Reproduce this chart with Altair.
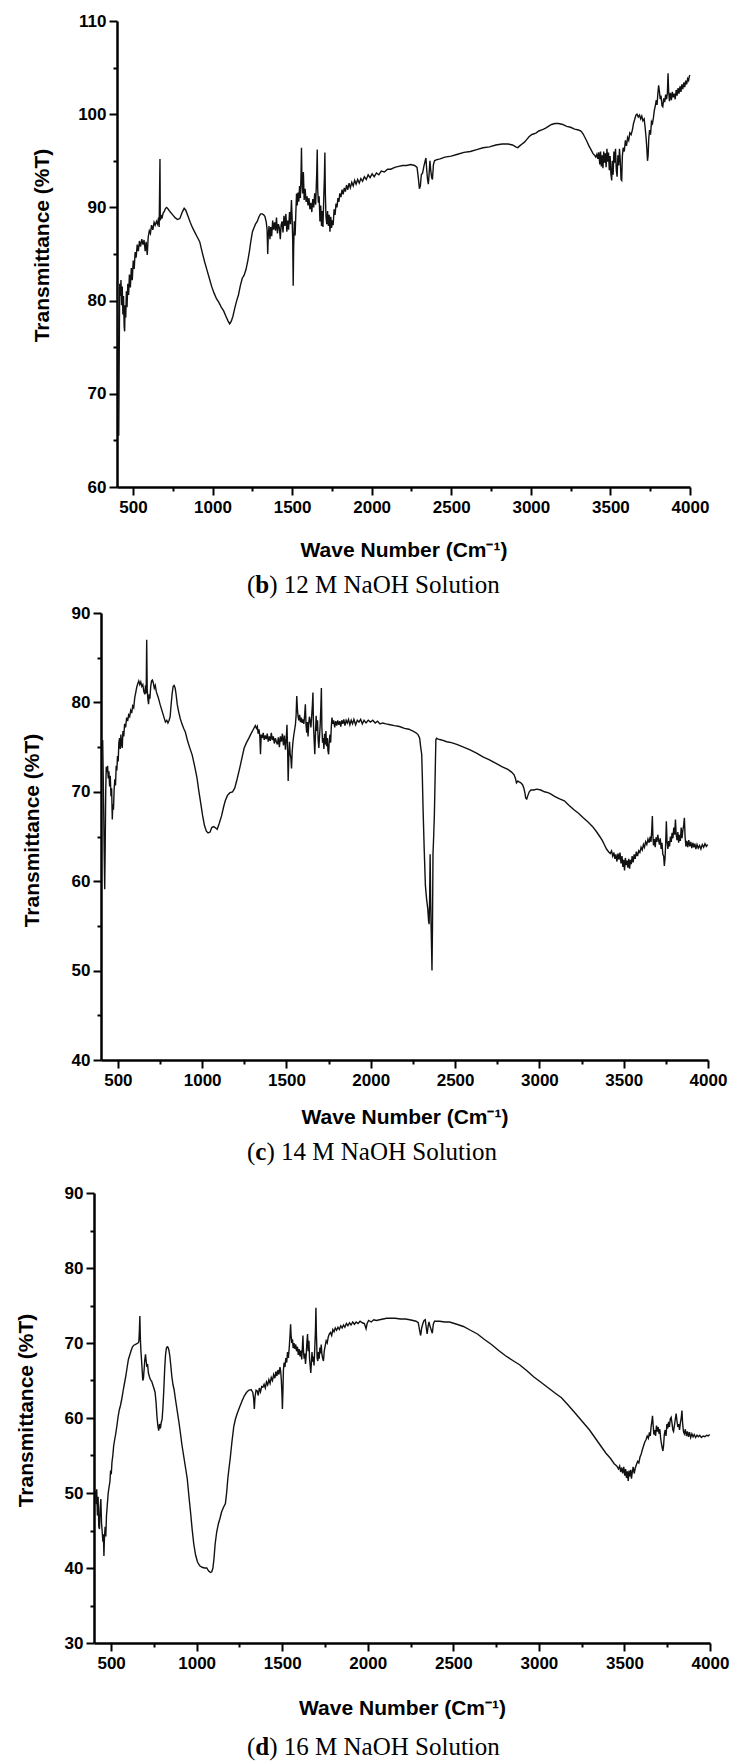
import altair as alt
import pandas as pd

# ---------------- data ----------------
X_TICKS = [500, 750, 1000, 1250, 1500, 1750, 2000, 2250, 2500, 2750, 3000, 3250, 3500, 3750, 4000]
Y_TICKS_B = [60, 65, 70, 75, 80, 85, 90, 95, 100, 105, 110]
Y_TICKS_C = [40, 45, 50, 55, 60, 65, 70, 75, 80, 85, 90]
Y_TICKS_D = [30, 35, 40, 45, 50, 55, 60, 65, 70, 75, 80, 85, 90]

CAPTIONS = [("b", ") 12 M NaOH Solution"), ("c", ") 14 M NaOH Solution"), ("d", ") 16 M NaOH Solution")]
X_TITLE = "Wave Number (Cm\u207b\u00b9)"
Y_TITLE = "Transmittance (%T)"

SPEC_B = [
    (402, 82.0), (405, 78), (408, 72), (411, 65.5), (414, 74), (417, 81.8), (421, 80.5), (425, 82.2), (429, 79.5),
    (433, 81.5), (437, 78.5), (441, 80.5), (445, 77.2), (448, 76.7), (451, 79.5), (455, 78.2), (459, 81), (463, 79.3),
    (468, 81.8), (473, 80.6), (478, 82.8), (484, 81.4), (490, 83.5), (496, 82.2), (502, 84.3), (508, 83.4), (514, 85.2),
    (520, 84.6), (527, 86), (534, 85.3), (541, 86.4), (548, 85.8), (556, 86.6), (563, 86.0), (570, 86.5), (577, 85.3),
    (583, 86.3), (590, 84.9), (596, 86.8), (603, 87.5), (610, 87.2), (617, 88.1), (625, 87.6), (633, 88.4), (640, 88.1),
    (648, 88.5), (655, 88.2), (661, 88.9), (665, 87.9), (668, 92.3), (670, 95.2), (672, 88.6), (676, 89.2), (682, 88.8),
    (690, 89.4), (698, 89.6), (705, 89.9), (712, 90.0), (722, 89.8), (735, 89.5), (750, 89.2), (765, 88.9), (780, 88.7),
    (795, 88.8), (810, 89.5), (822, 89.9), (832, 89.7), (845, 89.1), (860, 88.4), (875, 87.8), (890, 87.3), (905, 86.8),
    (920, 86.3), (935, 85.2), (950, 84.2), (965, 83.3), (980, 82.4), (995, 81.5), (1010, 80.8), (1025, 80.2), (1040, 79.8),
    (1055, 79.3), (1070, 78.9), (1085, 78.3), (1098, 77.8), (1108, 77.5), (1118, 77.8), (1128, 78.3), (1140, 79.2),
    (1152, 80.0), (1163, 80.6), (1175, 81.6), (1187, 82.4), (1198, 82.7), (1210, 83.3), (1222, 84.3), (1232, 85.3),
    (1242, 86.5), (1251, 87.4), (1260, 87.8), (1270, 88.2), (1281, 88.5), (1292, 89.0), (1302, 89.3), (1312, 89.3),
    (1322, 89.2), (1330, 89.0), (1338, 88.4), (1343, 87.6), (1347, 85.0), (1350, 86.8), (1355, 88.0), (1361, 86.6),
    (1366, 87.9), (1372, 86.9), (1378, 88.6), (1384, 87.6), (1390, 88.4), (1396, 87.5), (1402, 88.9), (1408, 87.2),
    (1414, 88.2), (1420, 87.8), (1426, 86.6), (1431, 88.1), (1437, 88.5), (1443, 87.3), (1449, 89.1), (1455, 88.0),
    (1461, 89.3), (1467, 87.4), (1472, 88.6), (1478, 87.6), (1484, 89.5), (1490, 88.2), (1496, 90.8), (1500, 89.0),
    (1504, 86.5), (1507, 81.6), (1510, 85.8), (1514, 88.5), (1519, 87.0), (1524, 89.6), (1528, 91.5), (1532, 90.2),
    (1537, 91.6), (1542, 90.6), (1547, 92.3), (1552, 91.0), (1556, 93.4), (1559, 96.4), (1562, 93.0), (1566, 91.5),
    (1571, 93.8), (1576, 90.8), (1582, 92.0), (1588, 90.6), (1594, 91.2), (1600, 90.2), (1606, 91.0), (1612, 89.8),
    (1618, 90.5), (1624, 89.5), (1630, 90.9), (1636, 90.0), (1642, 91.5), (1648, 90.3), (1652, 92.2), (1655, 93.8),
    (1658, 96.2), (1661, 92.0), (1665, 90.5), (1670, 91.2), (1675, 88.5), (1680, 90.2), (1685, 88.0), (1690, 89.6),
    (1694, 87.9), (1699, 91.0), (1703, 93.2), (1706, 95.9), (1709, 91.5), (1713, 89.0), (1718, 88.2), (1723, 89.6),
    (1728, 88.0), (1733, 89.2), (1738, 87.4), (1743, 89.0), (1748, 87.8), (1753, 88.6), (1758, 88.1), (1764, 89.8),
    (1770, 89.2), (1776, 90.4), (1782, 90.0), (1788, 91.0), (1794, 90.6), (1800, 91.5), (1807, 91.1), (1814, 91.9),
    (1821, 91.4), (1828, 92.1), (1835, 91.7), (1842, 92.4), (1850, 91.9), (1858, 92.6), (1866, 92.1), (1875, 92.7),
    (1884, 92.3), (1893, 92.9), (1902, 92.5), (1912, 93.0), (1922, 92.6), (1932, 93.1), (1943, 92.8), (1954, 93.3),
    (1966, 93.0), (1978, 93.5), (1990, 93.2), (2003, 93.6), (2016, 93.3), (2030, 93.7), (2045, 93.5), (2060, 93.9),
    (2080, 93.8), (2100, 94.1), (2120, 94.1), (2145, 94.3), (2170, 94.4), (2195, 94.5), (2220, 94.5), (2245, 94.6),
    (2270, 94.5), (2285, 94.3), (2293, 93.2), (2300, 92.0), (2306, 92.3), (2312, 93.5), (2320, 93.7), (2328, 94.4),
    (2336, 95.0), (2341, 95.3), (2346, 94.0), (2351, 93.0), (2356, 92.5), (2361, 93.6), (2366, 95.0), (2371, 94.0),
    (2377, 93.2), (2382, 93.0), (2388, 94.6), (2395, 95.0), (2405, 95.1), (2430, 95.2), (2460, 95.4), (2500, 95.5),
    (2540, 95.7), (2580, 95.9), (2620, 96.0), (2660, 96.2), (2700, 96.4), (2740, 96.5), (2780, 96.7), (2820, 96.8),
    (2857, 96.8), (2885, 96.7), (2905, 96.5), (2918, 96.4), (2930, 96.6), (2945, 96.8), (2960, 97.0), (2975, 97.3),
    (2990, 97.6), (3005, 97.8), (3020, 97.9), (3034, 98.0), (3050, 98.2), (3065, 98.3), (3080, 98.4), (3093, 98.5),
    (3110, 98.7), (3130, 98.9), (3152, 99.0), (3175, 99.0), (3200, 98.9), (3225, 98.7), (3250, 98.6), (3275, 98.4),
    (3300, 98.3), (3315, 98.2), (3328, 97.9), (3340, 97.5), (3352, 97.1), (3365, 96.6), (3378, 96.2), (3390, 95.8),
    (3400, 95.6), (3408, 95.4), (3415, 95.7), (3421, 95.2), (3427, 95.9), (3433, 94.6), (3438, 96.0), (3443, 94.4),
    (3448, 95.6), (3453, 94.2), (3458, 96.0), (3463, 94.8), (3468, 95.8), (3473, 94.3), (3478, 96.3), (3483, 94.9),
    (3488, 95.9), (3493, 94.0), (3498, 95.5), (3503, 93.6), (3508, 92.9), (3512, 95.0), (3517, 93.5), (3522, 96.0),
    (3527, 94.8), (3532, 96.3), (3537, 94.0), (3542, 93.3), (3547, 95.6), (3552, 94.5), (3557, 96.3), (3562, 95.0),
    (3567, 93.0), (3571, 92.9), (3575, 95.5), (3580, 96.4), (3587, 96.0), (3594, 97.2), (3601, 96.6), (3608, 97.5),
    (3615, 97.2), (3622, 98.0), (3630, 97.8), (3638, 98.3), (3645, 99.0), (3652, 99.4), (3660, 99.9), (3667, 100.0),
    (3675, 99.7), (3683, 99.9), (3690, 99.5), (3697, 99.8), (3704, 99.3), (3712, 99.5), (3718, 98.6), (3724, 97.5),
    (3729, 96.3), (3733, 95.0), (3737, 95.6), (3741, 97.4), (3746, 98.3), (3752, 97.8), (3758, 99.2), (3764, 99.0),
    (3770, 99.6), (3776, 100.4), (3782, 100.9), (3788, 101.5), (3793, 101.0), (3798, 102.2), (3803, 103.1), (3808, 102.4),
    (3813, 101.6), (3818, 102.0), (3824, 100.9), (3829, 100.8), (3835, 101.7), (3841, 101.3), (3847, 102.1), (3853, 101.6),
    (3858, 102.3), (3862, 104.4), (3866, 102.4), (3871, 101.4), (3877, 102.3), (3883, 101.5), (3889, 102.4), (3895, 101.8),
    (3901, 102.2), (3907, 101.6), (3913, 102.6), (3919, 102.0), (3925, 102.8), (3931, 102.2), (3937, 103.0), (3943, 102.4),
    (3949, 103.2), (3955, 102.7), (3961, 103.4), (3967, 102.9), (3973, 103.6), (3979, 103.2), (3985, 103.8), (3991, 103.6),
    (3996, 104.1), (4000, 104.2),
]

SPEC_C = [
    (402, 76.0), (406, 75.5), (410, 75.8), (413, 72.0), (416, 68.0), (419, 63.0), (422, 59.1), (425, 64.0), (428, 70.0),
    (431, 72.8), (435, 72.2), (439, 72.9), (443, 71.5), (447, 72.3), (451, 70.6), (455, 71.8), (459, 69.5), (463, 70.4),
    (467, 66.9), (470, 68.6), (474, 68.0), (478, 70.3), (482, 71.4), (486, 70.7), (490, 72.9), (494, 72.4), (498, 74.0),
    (502, 73.4), (506, 75.5), (510, 76.0), (514, 74.8), (518, 76.4), (522, 75.3), (526, 74.9), (530, 76.8), (535, 76.2),
    (540, 77.6), (546, 77.2), (552, 78.3), (558, 77.9), (564, 78.6), (570, 78.4), (576, 79.1), (582, 78.8), (588, 79.6),
    (594, 79.4), (600, 80.5), (606, 81.1), (612, 81.7), (618, 82.1), (624, 82.4), (630, 82.0), (636, 82.3), (642, 81.8),
    (648, 82.0), (654, 81.2), (660, 80.9), (664, 81.9), (668, 81.0), (671, 87.0), (674, 81.5), (678, 80.4), (682, 79.8),
    (686, 80.9), (690, 80.4), (695, 81.8), (700, 82.4), (705, 82.5), (710, 82.2), (716, 81.6), (722, 81.9), (728, 81.2),
    (735, 80.8), (742, 80.4), (750, 79.8), (758, 79.3), (766, 78.8), (774, 78.3), (782, 77.8), (790, 78.0), (797, 77.7),
    (804, 78.0), (810, 78.4), (816, 79.8), (822, 81.0), (828, 81.8), (834, 81.9), (840, 81.6), (846, 80.8), (852, 79.8),
    (860, 79.0), (870, 78.2), (880, 77.6), (890, 77.1), (900, 76.7), (912, 75.8), (925, 75.0), (941, 74.1), (955, 72.9),
    (969, 71.6), (980, 70.1), (990, 68.9), (1003, 67.3), (1014, 66.2), (1025, 65.6), (1035, 65.4), (1047, 65.5),
    (1057, 66.0), (1067, 66.1), (1077, 66.0), (1089, 65.8), (1100, 66.4), (1115, 67.3), (1127, 68.3), (1137, 69.0),
    (1150, 69.6), (1165, 69.9), (1180, 70.0), (1193, 70.4), (1207, 71.4), (1221, 72.5), (1235, 73.7), (1249, 74.9),
    (1263, 75.5), (1277, 76.0), (1290, 76.5), (1304, 77.0), (1315, 77.4), (1322, 77.1), (1327, 77.3), (1332, 76.5),
    (1337, 77.0), (1342, 76.2), (1346, 74.2), (1350, 76.4), (1356, 76.0), (1362, 76.6), (1368, 75.8), (1374, 76.3),
    (1380, 75.9), (1386, 76.5), (1392, 75.6), (1398, 76.2), (1404, 75.7), (1410, 76.6), (1416, 75.8), (1422, 76.2),
    (1428, 75.4), (1434, 76.0), (1440, 75.6), (1446, 75.3), (1452, 76.1), (1458, 75.0), (1464, 76.2), (1470, 75.6),
    (1476, 76.5), (1482, 75.2), (1488, 76.3), (1494, 74.7), (1499, 76.0), (1503, 77.5), (1507, 74.5), (1510, 71.2),
    (1514, 74.0), (1518, 75.6), (1522, 74.2), (1526, 73.8), (1530, 72.6), (1534, 74.5), (1538, 75.5), (1543, 76.3),
    (1548, 76.9), (1553, 77.5), (1557, 78.5), (1561, 80.7), (1565, 79.2), (1569, 78.4), (1573, 78.0), (1578, 78.6),
    (1583, 77.8), (1588, 78.3), (1593, 77.7), (1598, 78.1), (1603, 77.6), (1608, 78.6), (1612, 79.8), (1616, 77.5),
    (1620, 76.6), (1624, 77.8), (1628, 76.2), (1632, 77.6), (1636, 78.4), (1640, 78.0), (1645, 77.2), (1650, 78.6),
    (1654, 79.8), (1657, 81.1), (1660, 77.6), (1664, 75.8), (1668, 74.2), (1672, 76.5), (1676, 78.5), (1680, 76.8),
    (1684, 78.0), (1688, 75.8), (1692, 74.9), (1696, 76.2), (1700, 77.5), (1704, 79.5), (1707, 81.6), (1710, 77.2),
    (1714, 75.5), (1718, 76.0), (1722, 74.8), (1726, 76.5), (1730, 75.3), (1734, 76.8), (1738, 75.1), (1742, 76.0),
    (1746, 74.6), (1750, 74.2), (1754, 75.8), (1758, 76.4), (1762, 75.5), (1766, 77.3), (1770, 78.3), (1775, 77.6),
    (1780, 78.0), (1786, 77.2), (1792, 77.9), (1798, 77.4), (1804, 78.0), (1810, 77.5), (1816, 77.9), (1822, 77.3),
    (1828, 78.0), (1834, 77.6), (1840, 78.1), (1847, 77.4), (1854, 78.0), (1861, 77.7), (1868, 78.1), (1876, 77.5),
    (1884, 78.0), (1892, 77.6), (1900, 78.1), (1910, 77.5), (1920, 78.0), (1930, 77.8), (1940, 78.1), (1950, 77.6),
    (1960, 78.0), (1972, 77.7), (1985, 78.0), (1998, 77.8), (2012, 78.0), (2026, 77.7), (2040, 77.9), (2055, 77.6),
    (2070, 77.7), (2090, 77.6), (2115, 77.5), (2140, 77.4), (2170, 77.3), (2200, 77.1), (2226, 77.0), (2250, 76.8),
    (2268, 76.6), (2280, 76.4), (2290, 76.0), (2296, 75.0), (2302, 74.2), (2306, 71.5), (2310, 68.2), (2317, 63.5),
    (2324, 59.5), (2331, 58.0), (2338, 56.9), (2343, 55.5), (2346, 55.2), (2349, 58.0), (2352, 63.0), (2355, 58.0),
    (2358, 54.8), (2361, 52.0), (2363, 50.0), (2366, 55.0), (2369, 63.0), (2373, 65.0), (2377, 67.3), (2382, 72.0),
    (2386, 75.8), (2390, 76.0), (2399, 75.9), (2420, 75.8), (2450, 75.6), (2478, 75.5), (2510, 75.3), (2550, 75.0),
    (2589, 74.7), (2630, 74.3), (2665, 73.9), (2701, 73.6), (2740, 73.2), (2780, 72.8), (2813, 72.5), (2835, 72.2),
    (2850, 71.9), (2858, 71.5), (2864, 71.0), (2872, 71.2), (2880, 71.1), (2890, 71.0), (2900, 70.8), (2908, 70.4),
    (2914, 69.9), (2919, 69.3), (2925, 69.2), (2932, 69.6), (2940, 70.0), (2950, 70.2), (2966, 70.2), (2985, 70.3),
    (3008, 70.2), (3030, 70.0), (3050, 69.9), (3064, 69.8), (3090, 69.5), (3120, 69.2), (3148, 69.0), (3175, 68.5),
    (3205, 68.0), (3232, 67.6), (3260, 67.1), (3290, 66.6), (3316, 66.1), (3340, 65.5), (3358, 65.0), (3372, 64.6),
    (3385, 64.1), (3398, 63.6), (3410, 63.3), (3420, 63.1), (3428, 63.4), (3435, 62.8), (3442, 63.2), (3448, 62.5),
    (3454, 63.0), (3460, 62.2), (3466, 63.1), (3472, 62.4), (3478, 63.2), (3484, 62.0), (3490, 62.8), (3495, 61.6),
    (3500, 62.4), (3505, 61.2), (3510, 62.6), (3515, 61.8), (3520, 62.3), (3525, 61.5), (3530, 62.5), (3535, 61.4),
    (3540, 62.4), (3545, 61.9), (3550, 62.8), (3556, 62.1), (3562, 63.0), (3568, 62.5), (3575, 63.3), (3582, 62.8),
    (3589, 63.4), (3596, 63.2), (3603, 63.8), (3610, 63.5), (3617, 64.1), (3623, 63.8), (3630, 64.4), (3637, 64.1),
    (3644, 64.7), (3651, 64.3), (3657, 65.0), (3662, 64.4), (3666, 65.6), (3670, 67.3), (3673, 65.2), (3677, 64.0),
    (3682, 64.7), (3687, 63.8), (3692, 64.9), (3697, 64.4), (3702, 65.2), (3707, 64.6), (3712, 64.1), (3717, 64.8),
    (3722, 63.6), (3727, 64.3), (3732, 63.0), (3737, 62.8), (3741, 61.7), (3745, 62.5), (3749, 64.2), (3753, 66.7),
    (3757, 64.5), (3762, 63.6), (3767, 64.5), (3772, 63.9), (3777, 65.0), (3782, 64.4), (3787, 65.4), (3792, 64.8),
    (3797, 66.0), (3802, 65.2), (3807, 66.9), (3811, 65.3), (3816, 64.6), (3821, 65.5), (3826, 64.3), (3831, 65.2),
    (3836, 64.5), (3841, 66.0), (3846, 64.8), (3851, 65.7), (3856, 66.3), (3860, 67.1), (3864, 65.0), (3869, 63.9),
    (3874, 64.5), (3880, 63.8), (3886, 64.6), (3892, 63.9), (3898, 64.4), (3904, 63.7), (3910, 64.3), (3916, 63.8),
    (3922, 64.2), (3928, 63.6), (3935, 64.1), (3942, 63.7), (3950, 64.0), (3958, 63.6), (3966, 64.1), (3974, 63.8),
    (3982, 64.2), (3990, 63.9), (3998, 64.1),
]

SPEC_D = [
    (408, 50.3), (412, 48.5), (416, 50.5), (420, 47.0), (424, 49.5), (428, 45.5), (432, 45.2), (436, 48.0), (440, 49.2),
    (444, 46.0), (448, 44.8), (452, 43.5), (455, 44.5), (458, 41.6), (461, 44.0), (465, 45.5), (469, 44.2), (473, 47.0),
    (478, 48.5), (483, 50.0), (488, 50.8), (493, 51.5), (497, 53.0), (501, 52.5), (505, 54.1), (510, 55.0), (515, 56.3),
    (520, 57.0), (527, 57.9), (534, 59.0), (541, 60.2), (548, 61.1), (555, 61.7), (562, 62.5), (570, 63.6), (578, 64.6),
    (586, 65.6), (594, 66.8), (601, 67.8), (609, 68.4), (617, 69.0), (625, 69.5), (633, 69.7), (641, 69.8), (650, 69.9),
    (657, 70.0), (662, 70.2), (665, 71.5), (668, 73.6), (671, 70.5), (674, 69.0), (677, 68.0), (681, 66.6), (685, 65.0),
    (689, 65.3), (693, 66.5), (697, 67.8), (701, 68.5), (705, 67.6), (709, 66.8), (713, 67.2), (718, 66.0), (724, 65.5),
    (730, 65.1), (737, 64.9), (744, 64.4), (751, 63.9), (757, 63.4), (763, 62.0), (768, 60.2), (773, 59.0), (778, 58.3),
    (783, 59.2), (788, 58.6), (793, 59.4), (798, 59.8), (803, 61.5), (808, 63.8), (813, 66.5), (818, 68.4), (823, 69.3),
    (828, 69.5), (833, 69.4), (838, 69.0), (843, 68.3), (848, 67.2), (855, 65.5), (862, 64.4), (868, 63.8), (876, 62.5),
    (886, 61.0), (896, 59.5), (905, 58.0), (914, 56.4), (923, 55.1), (934, 53.5), (945, 51.9), (955, 49.5), (964, 47.5),
    (973, 45.3), (983, 43.2), (994, 41.7), (1005, 40.8), (1018, 40.3), (1032, 40.1), (1046, 40.0), (1059, 40.0),
    (1070, 39.6), (1081, 39.4), (1088, 39.5), (1095, 40.0), (1101, 41.2), (1108, 43.2), (1117, 44.8), (1127, 45.9),
    (1136, 46.6), (1146, 47.5), (1157, 48.1), (1168, 48.6), (1175, 50.0), (1182, 51.9), (1189, 53.3), (1196, 54.6),
    (1206, 56.8), (1217, 58.9), (1227, 59.9), (1237, 60.6), (1250, 61.4), (1264, 62.2), (1277, 62.9), (1291, 63.4),
    (1304, 63.7), (1318, 63.8), (1328, 63.4), (1333, 62.6), (1337, 61.2), (1341, 62.8), (1347, 63.7), (1354, 63.6),
    (1360, 63.0), (1366, 64.0), (1373, 63.5), (1380, 64.2), (1387, 64.1), (1394, 64.5), (1401, 64.0), (1408, 64.8),
    (1415, 64.4), (1422, 65.1), (1429, 64.6), (1436, 65.4), (1443, 65.0), (1450, 65.8), (1457, 65.3), (1463, 66.2),
    (1469, 65.6), (1475, 66.4), (1481, 65.8), (1487, 66.8), (1491, 66.2), (1495, 65.0), (1499, 62.8), (1501, 61.2),
    (1504, 63.5), (1507, 66.4), (1511, 67.4), (1516, 66.8), (1521, 68.0), (1526, 67.4), (1531, 68.8), (1536, 68.0),
    (1541, 69.4), (1545, 70.8), (1549, 72.5), (1552, 71.0), (1556, 70.0), (1560, 70.5), (1564, 69.3), (1569, 70.0),
    (1574, 69.2), (1579, 69.8), (1584, 68.9), (1589, 69.5), (1594, 68.4), (1599, 69.2), (1604, 68.2), (1609, 69.0),
    (1614, 67.8), (1618, 69.5), (1621, 71.0), (1624, 69.0), (1628, 67.9), (1632, 68.6), (1636, 67.2), (1640, 68.3),
    (1644, 70.0), (1648, 71.2), (1652, 68.9), (1656, 70.3), (1660, 67.8), (1664, 66.8), (1667, 66.0), (1670, 67.2),
    (1674, 68.8), (1678, 67.5), (1682, 68.2), (1686, 67.0), (1690, 69.2), (1694, 71.5), (1697, 74.7), (1700, 71.0),
    (1704, 68.0), (1708, 67.6), (1712, 68.8), (1716, 67.9), (1720, 69.4), (1724, 68.6), (1728, 69.8), (1732, 68.5),
    (1736, 68.0), (1741, 67.6), (1746, 69.0), (1751, 69.6), (1757, 70.3), (1763, 70.0), (1769, 70.8), (1775, 71.2),
    (1782, 71.4), (1789, 71.0), (1796, 71.8), (1803, 71.5), (1810, 72.0), (1818, 71.7), (1826, 72.1), (1834, 71.8),
    (1842, 72.3), (1850, 72.0), (1858, 72.4), (1866, 72.1), (1875, 72.6), (1884, 72.3), (1893, 72.7), (1902, 72.4),
    (1912, 72.8), (1922, 72.5), (1932, 72.8), (1943, 72.6), (1955, 72.9), (1968, 72.7), (1980, 72.6), (1990, 71.9),
    (1996, 72.6), (2005, 73.0), (2020, 72.8), (2035, 73.1), (2050, 73.0), (2069, 73.1), (2090, 73.2), (2110, 73.3),
    (2135, 73.3), (2160, 73.3), (2191, 73.2), (2220, 73.2), (2245, 73.1), (2265, 73.0), (2282, 72.9), (2295, 72.7),
    (2302, 71.8), (2309, 71.0), (2315, 72.0), (2322, 72.6), (2329, 73.0), (2336, 73.1), (2341, 72.2), (2347, 71.2),
    (2353, 72.3), (2358, 72.8), (2363, 72.3), (2370, 71.8), (2377, 71.3), (2383, 72.5), (2390, 72.9), (2420, 72.9),
    (2450, 72.8), (2478, 72.8), (2520, 72.5), (2559, 72.2), (2600, 71.7), (2641, 71.2), (2680, 70.5), (2723, 69.8),
    (2765, 69.0), (2805, 68.3), (2845, 67.7), (2887, 67.1), (2930, 66.3), (2969, 65.5), (3010, 64.8), (3050, 64.1),
    (3090, 63.4), (3132, 62.7), (3172, 61.7), (3214, 60.6), (3255, 59.5), (3296, 58.4), (3330, 57.3), (3364, 56.2),
    (3392, 55.3), (3419, 54.6), (3440, 53.9), (3455, 53.6), (3465, 53.2), (3472, 53.6), (3478, 52.8), (3484, 53.4),
    (3490, 52.6), (3496, 53.5), (3502, 52.3), (3507, 53.2), (3512, 52.0), (3517, 52.9), (3522, 51.6), (3527, 53.0),
    (3532, 52.2), (3537, 53.1), (3541, 51.9), (3546, 52.8), (3551, 53.5), (3557, 52.6), (3563, 53.3), (3570, 53.8),
    (3577, 54.2), (3584, 54.0), (3591, 54.8), (3598, 55.2), (3605, 55.8), (3612, 56.3), (3619, 56.8), (3626, 57.1),
    (3633, 57.6), (3640, 57.3), (3646, 58.1), (3651, 57.6), (3656, 58.9), (3660, 59.5), (3664, 60.3), (3668, 59.0),
    (3672, 57.8), (3677, 58.4), (3682, 57.6), (3687, 59.0), (3692, 58.2), (3697, 58.8), (3702, 57.9), (3707, 58.5),
    (3711, 57.4), (3716, 56.6), (3721, 56.0), (3725, 55.6), (3729, 56.4), (3733, 57.8), (3738, 58.4), (3743, 57.6),
    (3748, 59.2), (3753, 58.6), (3758, 59.5), (3763, 58.8), (3768, 59.9), (3773, 60.1), (3778, 59.3), (3783, 58.4),
    (3787, 58.2), (3792, 59.0), (3797, 59.8), (3802, 60.6), (3807, 59.6), (3812, 58.8), (3817, 59.2), (3822, 58.4),
    (3827, 59.4), (3832, 60.0), (3836, 61.0), (3840, 59.3), (3845, 58.2), (3850, 57.9), (3856, 58.5), (3862, 57.6),
    (3868, 58.2), (3874, 57.5), (3880, 58.1), (3887, 57.4), (3894, 57.9), (3901, 57.5), (3908, 57.8), (3916, 57.4),
    (3924, 57.7), (3932, 57.5), (3940, 57.7), (3950, 57.4), (3960, 57.6), (3970, 57.5), (3980, 57.7), (3990, 57.6),
    (3998, 57.8),
]

# ---------------- layout (pixels) ----------------
PAGE_W = 735
SANS = "Liberation Sans"
SERIF = "Liberation Serif"
CAP_SIZE = 25


def text_layer(s, x, y, bold=False, align="left"):
    return alt.Chart(pd.DataFrame({"s": [s]})).mark_text(
        align=align, baseline="middle", font=SERIF, fontSize=CAP_SIZE,
        fontWeight="bold" if bold else "normal", color="black",
    ).encode(x=alt.value(x), y=alt.value(y), text="s:N")


def panel(spec, ydom, yticks, xr, yr, group_h, ytx, yty, xty, cap_y, letter, rest, letter_w):
    df = pd.DataFrame(spec, columns=["wn", "t"])
    x_axis = alt.Axis(
        values=X_TICKS, format="d",
        labelExpr="datum.value % 500 === 0 ? datum.label : ''",
        tickSize={"condition": {"test": "datum.value % 500 === 0", "value": 8}, "value": 4},
        offset=-(group_h - yr[0]), labelPadding=4, labelFlush=False, labelOverlap=False,
        title=X_TITLE, titleX=(xr[0] + xr[1]) / 2, titleY=xty,
        titleBaseline="middle", titleAlign="center", grid=False,
    )
    y_axis = alt.Axis(
        values=yticks, format="d",
        labelExpr="datum.value % 10 === 0 ? datum.label : ''",
        tickSize={"condition": {"test": "datum.value % 10 === 0", "value": 8}, "value": 4},
        offset=-xr[0], labelPadding=3, labelFlush=False, labelOverlap=False,
        title=Y_TITLE, titleX=ytx, titleY=yty, titleAngle=270,
        titleBaseline="middle", titleAlign="center", grid=False,
    )
    line = alt.Chart(df).mark_line(color="#111111", strokeWidth=1.4).encode(
        x=alt.X("wn:Q", scale=alt.Scale(domain=[400, 4000], range=list(xr), nice=False, zero=False), axis=x_axis),
        y=alt.Y("t:Q", scale=alt.Scale(domain=list(ydom), range=list(yr), nice=False, zero=False), axis=y_axis),
    )
    x0 = 247
    w_par = 0.333 * CAP_SIZE
    caps = [
        text_layer("(", x0, cap_y),
        text_layer(letter, x0 + w_par, cap_y, bold=True),
        text_layer(rest, x0 + w_par + letter_w * CAP_SIZE, cap_y),
    ]
    return alt.layer(line, *caps).properties(width=PAGE_W, height=group_h)


p1 = panel(SPEC_B, (60, 110), Y_TICKS_B, (117, 690), (487, 21), 600,
           -74.5, 245, 63, 585, CAPTIONS[0][0], CAPTIONS[0][1], 0.556)
p2 = panel(SPEC_C, (40, 90), Y_TICKS_C, (101, 708), (460, 13), 570,
           -69, 230, 57, 552, CAPTIONS[1][0], CAPTIONS[1][1], 0.444)
p3 = panel(SPEC_D, (30, 90), Y_TICKS_D, (94, 710), (473, 23), 592,
           -68, 240, 65, 577, CAPTIONS[2][0], CAPTIONS[2][1], 0.556)

chart = alt.vconcat(p1, p2, p3, spacing=0).properties(
    padding=0, background="white"
).configure_view(strokeWidth=0).configure_axis(
    domainColor="black", tickColor="black", labelColor="black", titleColor="black",
    labelFont=SANS, titleFont=SANS, labelFontWeight="bold", titleFontWeight="bold",
    labelFontSize=17, titleFontSize=21, domainWidth=2.5, tickWidth=2,
)

chart.save("out.html", embed_options={"renderer": "svg", "actions": False})
